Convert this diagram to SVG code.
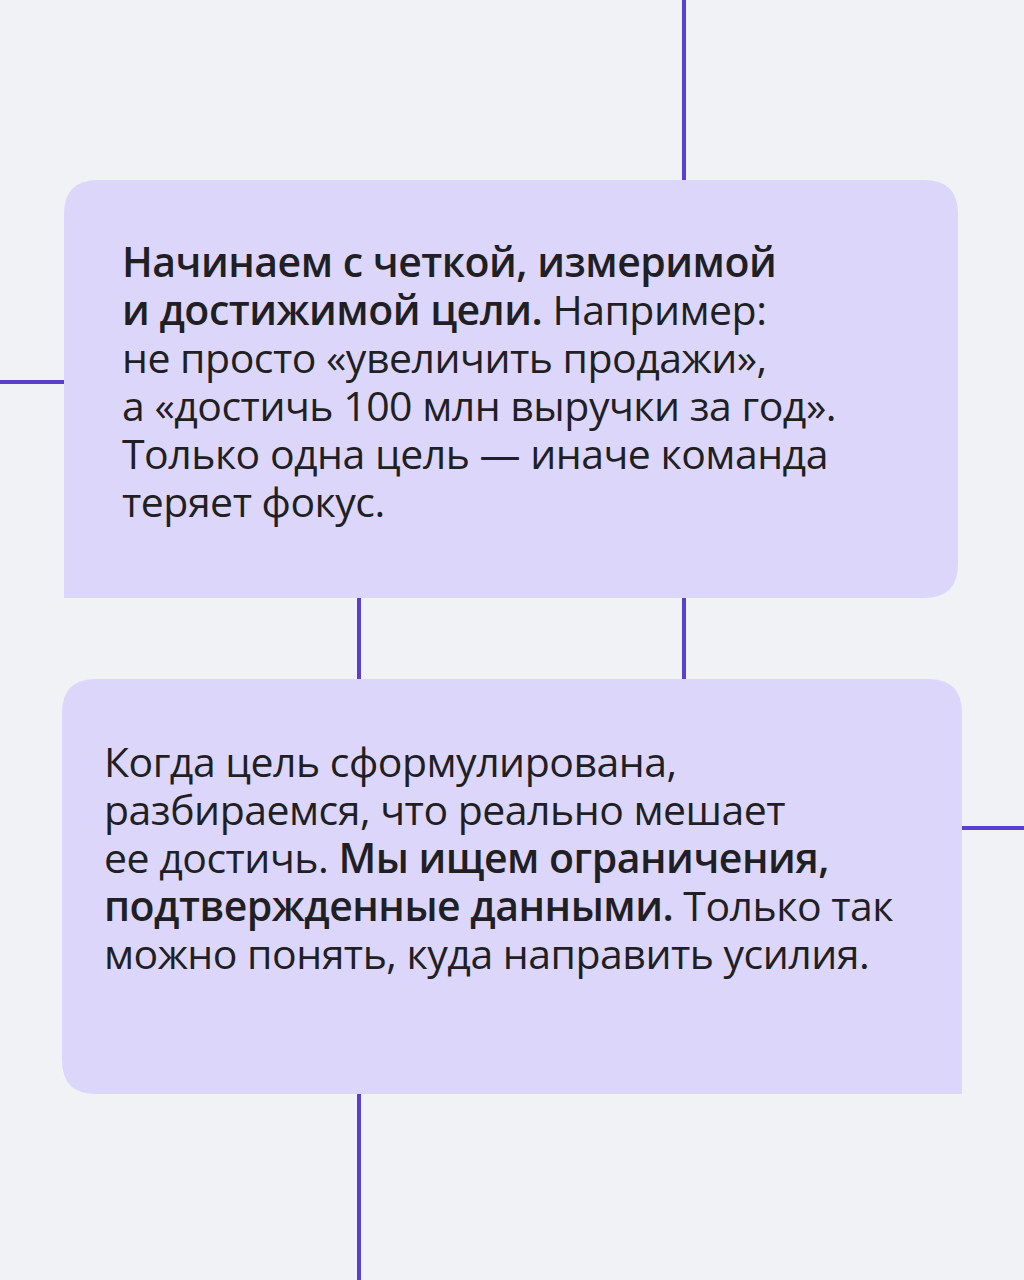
<svg xmlns="http://www.w3.org/2000/svg" width="1024" height="1280" viewBox="0 0 1024 1280">
<style>
.t{font-family:"Open Sans","Noto Sans",sans-serif;font-size:41px;fill:#1f1f24;letter-spacing:-0.5px}
.b{font-weight:600}
.c{stroke:#5b3fd0;stroke-width:4;fill:none}
.n{fill:#ddd6fb}
</style>
<rect width="1024" height="1280" fill="#f1f2f6"/>
<g id="connectors">
<line class="c" x1="684" y1="0" x2="684" y2="182"/>
<line class="c" x1="0" y1="382" x2="66" y2="382"/>
<line class="c" x1="359" y1="596" x2="359" y2="681"/>
<line class="c" x1="684" y1="596" x2="684" y2="681"/>
<line class="c" x1="960" y1="828" x2="1024" y2="828"/>
<line class="c" x1="359" y1="1092" x2="359" y2="1280"/>
</g>
<g id="node1">
<path class="n" d="M64 598 V214 Q64 180 98 180 H924 Q958 180 958 214 V564 Q958 598 924 598 Z"/>
<text class="t"><tspan x="122" y="277" class="b">Начинаем с четкой, измеримой</tspan><tspan x="122" y="325"><tspan class="b">и достижимой цели.</tspan> Например:</tspan><tspan x="122" y="373">не просто «увеличить продажи»,</tspan><tspan x="122" y="421">а «достичь 100 млн выручки за год».</tspan><tspan x="122" y="469">Только одна цель — иначе команда</tspan><tspan x="122" y="517">теряет фокус.</tspan></text>
</g>
<g id="node2">
<path class="n" d="M62 1060 V713 Q62 679 96 679 H928 Q962 679 962 713 V1094 H96 Q62 1094 62 1060 Z"/>
<text class="t"><tspan x="104" y="777">Когда цель сформулирована,</tspan><tspan x="104" y="825">разбираемся, что реально мешает</tspan><tspan x="104" y="873">ее достичь. <tspan class="b">Мы ищем ограничения,</tspan></tspan><tspan x="104" y="921"><tspan class="b">подтвержденные данными.</tspan> Только так</tspan><tspan x="104" y="969">можно понять, куда направить усилия.</tspan></text>
</g>
</svg>
